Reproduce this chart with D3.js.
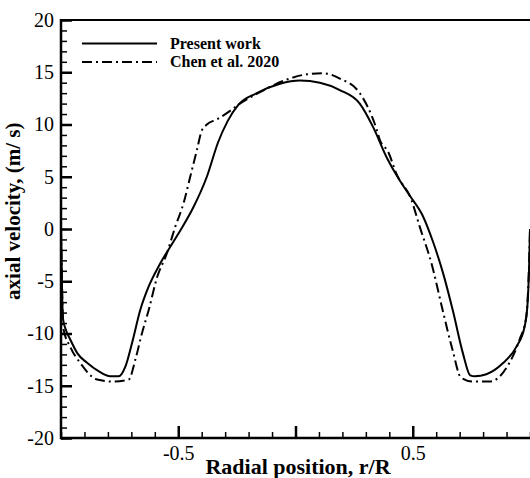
<!DOCTYPE html>
<html>
<head>
<meta charset="utf-8">
<script src="https://cdn.jsdelivr.net/npm/d3@7"></script>
<style>
  body { margin: 0; background: #fff; }
  svg { display: block; font-family: "Liberation Serif", "Times New Roman", serif; }
</style>
</head>
<body>
<svg id="chart"></svg>
<script>
var width = 530,
    height = 478;

var margin = {top: 20, right: 0, bottom: 40, left: 61};

// tick labels
var xMajorTicks = [-0.5, 0, 0.5];
var xTickLabels = ["-0.5", "", "0.5"];
var yMajorTicks = [-20, -15, -10, -5, 0, 5, 10, 15, 20];
var yTickLabels = ["-20", "-15", "-10", "-5", "0", "5", "10", "15", "20"];
var seriesNames = ["Present work", "Chen et al. 2020"];

// Present work (r/R, axial velocity)
var presentR = [-1, -0.997, -0.992, -0.98, -0.96, -0.93, -0.889, -0.84, -0.79, -0.754, -0.726, -0.697, -0.662,
  -0.626, -0.577, -0.52, -0.49, -0.435, -0.378, -0.33, -0.29, -0.243, -0.165, -0.066, 0.019, 0.104, 0.189,
  0.274, 0.33, 0.39, 0.44, 0.487, 0.544, 0.586, 0.629, 0.672, 0.714, 0.745, 0.765, 0.814, 0.884, 0.941,
  0.977, 0.99, 0.997, 1];
var presentV = [0, -4, -8.5, -9.6, -10.6, -11.9, -12.8, -13.6, -14.1, -14.1, -13.2, -10.9, -7.75,
  -5.5, -3.3, -1.2, -0.1, 2.1, 5.0, 8.3, 10.3, 11.9, 13.0, 13.9, 14.2, 14.0, 13.3,
  12.0, 9.8, 6.8, 4.8, 3.2, 1.2, -1.2, -4.2, -7.9, -11.9, -14.0, -14.1, -13.9, -12.85, -11.3,
  -9.35, -7, -3, 0];

// Chen et al. 2020
var chenR = [-1, -0.996, -0.99, -0.96, -0.917, -0.846, -0.775, -0.711, -0.683, -0.655, -0.626, -0.59,
  -0.548, -0.513, -0.477, -0.449, -0.42, -0.4, -0.378, -0.335, -0.279, -0.25, -0.151, -0.037, 0.048,
  0.118, 0.189, 0.274, 0.345, 0.36, 0.395, 0.43, 0.494, 0.53, 0.58, 0.63, 0.67, 0.705, 0.757, 0.828,
  0.899, 0.955, 0.984, 0.995, 1];
var chenV = [0, -5, -9.5, -11.3, -12.85, -14.4, -14.6, -14.4, -12.5, -10.0, -7.75, -4.6,
  -2.3, 0.2, 2.5, 5.0, 7.6, 9.4, 10.0, 10.5, 11.3, 11.8, 13.1, 14.3, 14.8,
  14.9, 14.4, 13.0, 9.6, 8.5, 7.4, 5.3, 2.8, 0.2, -3.3, -8.0, -11.6, -14.2, -14.6, -14.6,
  -13.3, -10.6, -8.4, -4, 0];

var present = presentR.map((r, i) => ({r: r, v: presentV[i]}));
var chen = chenR.map((r, i) => ({r: r, v: chenV[i]}));

var x = d3.scaleLinear()
    .domain([-1, 1])
    .range([margin.left, 530]);

var y = d3.scaleLinear()
    .domain([-20, 20])
    .range([height - margin.bottom, margin.top]);

var svg = d3.select("#chart")
    .attr("width", width)
    .attr("height", height);

var line = d3.line()
    .x(d => x(d.r))
    .y(d => y(d.v))
    .curve(d3.curveMonotoneX);

// curves
svg.append("path")
    .attr("d", line(present))
    .attr("fill", "none")
    .attr("stroke", "#000")
    .attr("stroke-width", 2);

svg.append("path")
    .attr("d", line(chen))
    .attr("fill", "none")
    .attr("stroke", "#000")
    .attr("stroke-width", 2)
    .attr("stroke-dasharray", "10,4,2,4");

// minor ticks
var xMinor = d3.range(-10, 11).map(d => d / 10);
var yMinor = d3.range(-20, 21);

svg.append("g")
    .attr("transform", `translate(0, ${y(-20)})`)
    .call(d3.axisBottom(x).tickValues(xMinor).tickSize(-6).tickFormat(""))
    .call(g => g.select(".domain").remove())
    .call(g => g.selectAll("line").attr("stroke-width", 1.5));

svg.append("g")
    .attr("transform", `translate(${x(-1)}, 0)`)
    .call(d3.axisLeft(y).tickValues(yMinor).tickSize(-6).tickFormat(""))
    .call(g => g.select(".domain").remove())
    .call(g => g.selectAll("line").attr("stroke-width", 1.5));

// major ticks + labels
var xAxis = svg.append("g")
    .attr("transform", `translate(0, ${y(-20)})`)
    .call(d3.axisBottom(x).tickValues(xMajorTicks).tickSize(-12).tickPadding(8)
      .tickFormat((d, i) => xTickLabels[i]));

var yAxis = svg.append("g")
    .attr("transform", `translate(${x(-1)}, 0)`)
    .call(d3.axisLeft(y).tickValues(yMajorTicks).tickSize(-11).tickPadding(7)
      .tickFormat((d, i) => yTickLabels[i]));

[xAxis, yAxis].forEach(g => {
  g.select(".domain").remove();
  g.selectAll("line").attr("stroke-width", 2.5);
  g.selectAll("text")
    .attr("font-family", "Liberation Serif, serif")
    .attr("font-size", 20)
    .attr("fill", "#000");
});

// frame
svg.append("line")
    .attr("x1", x(-1)).attr("x2", x(1))
    .attr("y1", y(-20)).attr("y2", y(-20))
    .attr("stroke", "#000").attr("stroke-width", 2.5);
svg.append("line")
    .attr("x1", x(-1)).attr("x2", x(-1))
    .attr("y1", y(20) - 1).attr("y2", y(-20) + 1.2)
    .attr("stroke", "#000").attr("stroke-width", 2.5);
svg.append("line")
    .attr("x1", x(-1)).attr("x2", x(1))
    .attr("y1", y(20)).attr("y2", y(20))
    .attr("stroke", "#000").attr("stroke-width", 2);

// axis titles
svg.append("text")
    .attr("x", 298)
    .attr("y", 474)
    .attr("text-anchor", "middle")
    .attr("font-weight", "bold")
    .attr("font-size", 22)
    .text("Radial position, r/R");

svg.append("text")
    .attr("transform", `translate(19.5, ${y(1.7)}) rotate(-90)`)
    .attr("text-anchor", "middle")
    .attr("font-weight", "bold")
    .attr("font-size", 21)
    .text("axial velocity, (m/ s)");

// legend
var legend = svg.append("g");
seriesNames.forEach((name, i) => {
  var ly = 43.5 + i * 18.5;
  legend.append("line")
      .attr("x1", 82).attr("x2", 157)
      .attr("y1", ly).attr("y2", ly)
      .attr("stroke", "#000")
      .attr("stroke-width", 2)
      .attr("stroke-dasharray", i === 0 ? null : "10,4,2,4");
  legend.append("text")
      .attr("x", 170)
      .attr("y", ly + 5)
      .attr("font-weight", "bold")
      .attr("font-size", 16)
      .text(name);
});
</script>
</body>
</html>
